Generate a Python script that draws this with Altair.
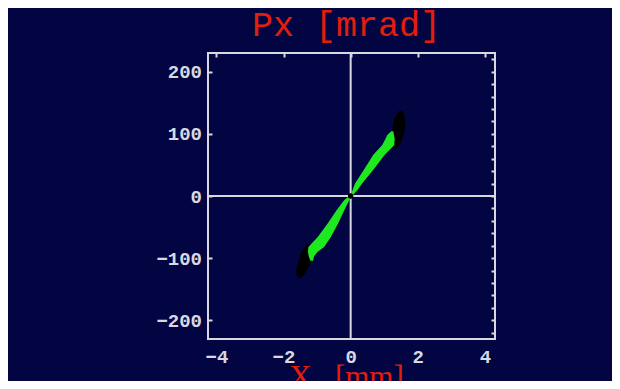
import altair as alt
import pandas as pd

# ---- data ----
# green band (horizontal slices): y [mrad], left x, right x [mm]
band_y = [-104, -97, -90, -82, -66, -44, -23, -6.5, 0, 2, 10, 20, 42, 66, 82, 92, 98, 104]
band_xl = [-1.20, -1.25, -1.27, -1.26, -0.98, -0.68, -0.42, -0.19, -0.04, 0.01, 0.06, 0.13, 0.39, 0.67, 0.94, 1.04, 1.09, 1.21]
band_xr = [-1.12, -1.09, -0.99, -0.79, -0.59, -0.37, -0.19, -0.04, 0.04, 0.08, 0.21, 0.34, 0.67, 1.01, 1.30, 1.31, 1.29, 1.27]

# black blobs at both ends
blob_up_y = [75, 79.5, 93, 104, 120, 131, 137]
blob_up_xl = [1.28, 1.25, 1.25, 1.24, 1.28, 1.37, 1.46]
blob_up_xr = [1.34, 1.42, 1.54, 1.61, 1.63, 1.59, 1.53]
blob_lo_y = [-132, -127, -119, -106, -92, -83, -78]
blob_lo_xl = [-1.56, -1.61, -1.62, -1.56, -1.48, -1.38, -1.30]
blob_lo_xr = [-1.49, -1.40, -1.30, -1.18, -1.14, -1.16, -1.22]

# centre point
centre_x = [0.0]
centre_y = [0.0]

# crosshair
cross_x = [0.0]
cross_y = [0.0]

x_ticks = [-4, -2, 0, 2, 4]
y_ticks = [-200, -100, 0, 100, 200]
y_minor = list(range(-220, 221, 20))
x_domain = [-4.25, 4.3]
y_domain = [-230, 230]

NAVY = "#020542"
FG = "#d8d8e0"
RED = "#e41e0a"
GREEN = "#1ee81e"

band = pd.DataFrame({"y": band_y, "xl": band_xl, "xr": band_xr})
blobs = pd.concat([
    pd.DataFrame({"y": blob_up_y, "xl": blob_up_xl, "xr": blob_up_xr, "blob": "up"}),
    pd.DataFrame({"y": blob_lo_y, "xl": blob_lo_xl, "xr": blob_lo_xr, "blob": "lo"}),
])
centre = pd.DataFrame({"x": centre_x, "y": centre_y})
cross_v = pd.DataFrame({"x": cross_x})
cross_h = pd.DataFrame({"y": cross_y})

xs = alt.Scale(domain=x_domain, nice=False, zero=False)
ys = alt.Scale(domain=y_domain, nice=False, zero=False)

x_axis = alt.Axis(orient="bottom", values=x_ticks, ticks=False, tickSize=0, domain=False, grid=False,
                  labelPadding=8, labelFont="Liberation Mono", labelFontSize=19, labelColor=FG,
                  labelFontWeight="bold",
                  title="X\u00a0\u00a0\u00a0[mm]", titleFont="Liberation Serif", titleFontSize=31,
                  titleFontWeight="normal", titleColor=RED, titlePadding=-4,
                  titleX=138, titleAlign="center")
y_axis = alt.Axis(orient="left", values=y_ticks, ticks=True, tickSize=4, tickWidth=2, tickColor=FG,
                  offset=-4, domain=False, grid=False,
                  labelPadding=6.5, labelFont="Liberation Mono", labelFontSize=19, labelColor=FG,
                  labelFontWeight="bold", title=None)

blob_layer = alt.Chart(blobs).mark_area(orient="horizontal", color="#000000", interpolate="monotone").encode(
    y=alt.Y("y:Q", scale=ys, axis=y_axis),
    x=alt.X("xl:Q", scale=xs, axis=x_axis),
    x2="xr:Q",
    detail="blob:N",
)
band_layer = alt.Chart(band).mark_area(orient="horizontal", color=GREEN).encode(
    y=alt.Y("y:Q", scale=ys, axis=y_axis),
    x=alt.X("xl:Q", scale=xs, axis=x_axis),
    x2="xr:Q",
)
centre_layer = alt.Chart(centre).mark_point(filled=True, color="#000000", size=30, opacity=1).encode(
    x=alt.X("x:Q", scale=xs, axis=x_axis),
    y=alt.Y("y:Q", scale=ys, axis=y_axis),
)
main = alt.layer(blob_layer, band_layer, centre_layer)

top_axis = alt.Axis(orient="top", values=x_ticks, labels=False, ticks=True, tickSize=4, tickWidth=2,
                    tickColor=FG, offset=-4, domain=False, grid=False, title=None)
right_axis = alt.Axis(orient="right", values=y_minor, labels=False, ticks=True, tickSize=4, tickWidth=2,
                      tickColor=FG, offset=-4, domain=False, grid=False, title=None)

rule_v = alt.Chart(cross_v).mark_rule(color=FG, strokeWidth=2).encode(
    x=alt.X("x:Q", scale=xs, axis=top_axis)
)
rule_h = alt.Chart(cross_h).mark_rule(color=FG, strokeWidth=2).encode(
    y=alt.Y("y:Q", scale=ys, axis=right_axis)
)
frame = alt.layer(rule_v, rule_h)

chart = alt.layer(frame, main).resolve_axis(x="independent", y="independent").properties(
    width=287,
    height=286,
    padding={"left": 200, "top": 45, "right": 117, "bottom": 42},
    autosize=alt.AutoSizeParams(type="none"),
    background=NAVY,
    title=alt.TitleParams(
        "Px [mrad]", font="Liberation Mono", fontSize=35, fontWeight="normal", color=RED,
        anchor="middle", frame="group", baseline="alphabetic", offset=14, dx=-5, dy=33,
    ),
).configure_view(stroke=FG, strokeWidth=2)

chart.save("out.html", embed_options={"renderer": "svg", "actions": False})
